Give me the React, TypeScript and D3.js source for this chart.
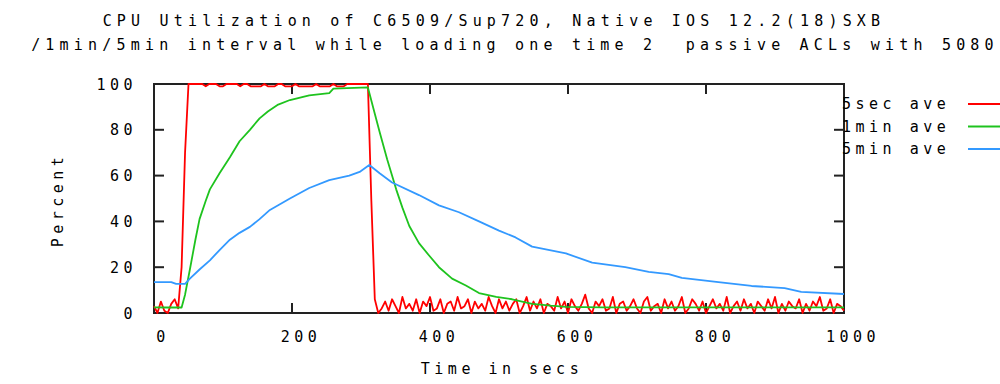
import React from "react";
import * as d3 from "d3";

const titleLines = [
  "CPU Utilization of C6509/Sup720, Native IOS 12.2(18)SXB",
  "/1min/5min interval while loading one time 2  passive ACLs with 5080",
];
const xTicks = [0, 200, 400, 600, 800, 1000];
const yTicks = [0, 20, 40, 60, 80, 100];
const seriesNames = ["5sec ave", "1min ave", "5min ave"];
const seriesColors = ["#ff0000", "#1ec31e", "#3399ff"];

// 5 second samples, every 5 seconds from t=0 to t=1000
const sec5Values = [
  3, 0, 5, 1, 0, 4, 6, 2,
  20, 70,
  100, 100, 100, 100, 100, 99, 100, 100, 100, 99,
  99, 100, 100, 100, 100, 99, 100, 100, 99, 99,
  99, 99, 100, 99, 99, 99, 100, 100, 99, 99,
  99, 100, 99, 99, 99, 99, 99, 100, 99, 99,
  99, 99, 100, 99, 99, 99, 100, 100, 100, 100,
  100, 100,
  100, 49, 6, 0,
  2, 5, 1, 6, 3, 0, 7, 2, 4, 1, 6, 0, 5, 3, 7, 1, 2, 6, 0, 4,
  5, 1, 7, 2, 3, 6, 0, 5, 2, 4, 1, 7, 3, 0, 6, 2, 5, 1, 4, 6,
  0, 3, 7, 1, 5, 2, 6, 0, 4, 3, 1, 7, 2, 5, 0, 6, 3, 1, 4, 8,
  2, 0, 5, 3, 6, 1, 2, 7, 0, 4, 5, 1, 3, 6, 2, 0, 5, 7, 1, 3,
  4, 0, 6, 2, 5, 1, 3, 7, 0, 2, 6, 4, 1, 5, 0, 3, 6, 2, 4, 1,
  7, 0, 3, 5, 1, 6, 2, 4, 0, 5, 3, 1, 6, 2, 7, 0, 4, 1, 5, 3,
  2, 6, 0, 4, 1, 5, 3, 7, 1, 2, 6, 0, 4, 3, 1,
];
const sec5Times = sec5Values.map((_, i) => i * 5);

const min1Times = [0, 20, 40, 45, 52, 60, 66, 75, 81, 95, 110, 124, 139, 153, 165, 180, 197, 225, 254, 260, 310, 320, 327, 338, 351, 360, 370, 384, 399, 413, 432, 452, 471, 496, 519, 548, 575, 597, 650, 800, 1000];
const min1Values = [2.5, 2.4, 2.4, 8, 19, 32, 41, 49, 54, 61, 68, 75, 80, 85, 88, 91, 93, 95, 96, 98, 98.5, 87, 79, 67, 54, 46, 38, 30.5, 25, 20, 15, 12, 8.7, 7, 6, 4, 3.2, 2.7, 2.5, 2.5, 2.5];

const min5Times = [0, 25, 32, 45, 52, 66, 81, 95, 110, 124, 139, 153, 168, 197, 225, 254, 283, 298, 312, 327, 345, 384, 413, 442, 471, 500, 524, 548, 597, 635, 683, 717, 746, 765, 818, 866, 914, 938, 1000];
const min5Values = [13.5, 13.5, 12.7, 12.7, 15, 19, 23, 27.5, 32, 35, 37.6, 41, 45, 50, 54.6, 58, 60, 61.6, 64.6, 61, 57, 51.5, 47, 44, 40, 36, 33, 29, 26, 22, 20, 18, 17, 15.3, 13.5, 11.8, 10.9, 9.2, 8.3];

const FONT = "'DejaVu Sans Mono', 'Liberation Mono', monospace";

export default function App() {
  const W = 1000, H = 384;
  const x = d3.scaleLinear().domain([0, 1000]).range([154, 844]);
  const y = d3.scaleLinear().domain([0, 100]).range([313, 84]);
  const line = d3.line<[number, number]>().x((d) => x(d[0])).y((d) => y(d[1]));

  const series: [number, number][][] = [
    sec5Times.map((t, i) => [t, sec5Values[i]]),
    min1Times.map((t, i) => [t, min1Values[i]]),
    min5Times.map((t, i) => [t, min5Values[i]]),
  ];

  const [x0, x1] = x.range();
  const [yb, yt] = y.range();
  const tickLen = 10;
  const border = "#222";
  const txt = { fontFamily: FONT, fontSize: 15, fill: "#000", style: { whiteSpace: "pre" as const } };

  return (
    <svg width={W} height={H} style={{ position: "absolute", left: 0, top: 0, background: "#fff" }}>
      <rect x={0} y={0} width={W} height={H} fill="#fff" />
      {titleLines.map((s, i) => (
        <text key={i} x={i === 0 ? 494 : 515} y={i === 0 ? 26 : 50} textAnchor="middle"
          letterSpacing={5.2} {...txt}>{s}</text>
      ))}
      {yTicks.map((v) => (
        <g key={"y" + v}>
          <line x1={x0} x2={x0 + tickLen} y1={y(v)} y2={y(v)} stroke={border} strokeWidth={2} />
          <line x1={x1} x2={x1 - tickLen} y1={y(v)} y2={y(v)} stroke={border} strokeWidth={2} />
          <text x={137} y={y(v) + 5.5} textAnchor="end" letterSpacing={4.5} {...txt}>
            {String(v)}
          </text>
        </g>
      ))}
      {xTicks.map((v) => (
        <g key={"x" + v}>
          <line x1={x(v)} x2={x(v)} y1={yb} y2={yb - tickLen} stroke={border} strokeWidth={2} />
          <line x1={x(v)} x2={x(v)} y1={yt} y2={yt + tickLen} stroke={border} strokeWidth={2} />
          <text x={x(v) + 9} y={342} textAnchor="middle" letterSpacing={4.5} {...txt}>
            {String(v)}
          </text>
        </g>
      ))}
      <rect x={x0} y={yt} width={x1 - x0} height={yb - yt} fill="none" stroke={border} strokeWidth={2} />
      <text x={502} y={374} textAnchor="middle" letterSpacing={4.5} {...txt}>Time in secs</text>
      <text transform="translate(63,200) rotate(-90)" textAnchor="middle" letterSpacing={4.5} {...txt}>Percent</text>
      {series.map((d, i) => (
        <path key={"s" + i} d={line(d) || ""} fill="none" stroke={seriesColors[i]} strokeWidth={1.8} strokeLinejoin="round" />
      ))}
      {seriesNames.map((n, i) => (
        <g key={"l" + i}>
          <text x={842} y={109 + i * 22.5} letterSpacing={4.5} {...txt}>{n}</text>
          <line x1={968} x2={1000} y1={104 + i * 22.5} y2={104 + i * 22.5} stroke={seriesColors[i]} strokeWidth={2} />
        </g>
      ))}
    </svg>
  );
}
